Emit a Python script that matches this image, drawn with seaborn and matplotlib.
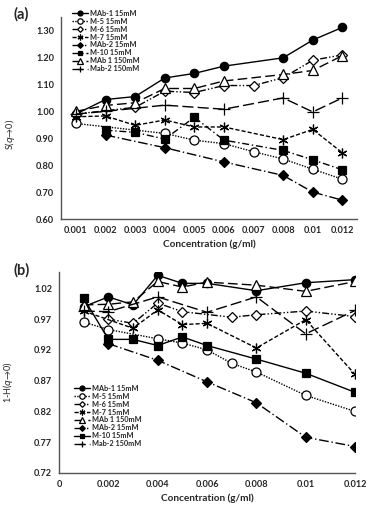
import numpy as np
import pandas as pd
import seaborn as sns
import matplotlib
matplotlib.use("Agg")
import matplotlib.pyplot as plt
from matplotlib.ticker import FixedLocator, FormatStrFormatter

sns.set_style("white")
plt.rcParams['font.family'] = ['Lato', 'DejaVu Sans']

nan = np.nan
# ---------------- Panel (a) data ----------------
conc_a_labels = ["0.001", "0.002", "0.003", "0.004", "0.005", "0.006", "0.007", "0.008", "0.01", "0.012"]
a_mab1_15 = [0.99, 1.044, 1.055, 1.124, 1.141, 1.168, nan, 1.199, 1.265, 1.312]
a_m5_15 = [0.955, nan, nan, 0.918, 0.893, 0.880, 0.850, 0.823, 0.785, 0.748]
a_m6_15 = [0.99, nan, 1.015, 1.075, 1.070, 1.096, 1.096, 1.125, 1.190, 1.210]
a_m7_15 = [0.98, 0.983, 0.948, 0.968, 0.942, 0.942, nan, 0.895, 0.933, 0.846]
a_mab2_15 = [nan, 0.912, nan, 0.865, nan, 0.812, nan, 0.762, 0.700, 0.670]
a_m10_15 = [nan, 0.930, 0.922, 0.897, 0.978, 0.893, nan, 0.855, 0.820, 0.783]
a_mab1_150 = [1.00, 1.022, 1.032, 1.085, 1.085, 1.113, nan, 1.137, 1.152, 1.207]
a_mab2_150 = [0.99, 1.00, nan, 1.023, nan, 1.008, nan, 1.050, 0.998, 1.050]

# ---------------- Panel (b) data ----------------
conc_b = [0.001, 0.002, 0.003, 0.004, 0.005, 0.006, 0.007, 0.008, 0.010, 0.012]
b_mab1_15 = [0.990, 1.006, 0.993, 1.041, 1.028, 1.028, nan, 1.016, 1.029, 1.034]
b_m5_15 = [0.965, 0.953, nan, 0.938, 0.931, 0.920, 0.898, 0.884, 0.846, 0.820]
b_m6_15 = [nan, 0.970, 0.963, 0.996, 0.982, nan, 0.973, 0.977, 0.983, 0.974]
b_m7_15 = [0.983, nan, 0.955, 0.985, 0.961, 0.963, nan, 0.923, 0.969, 0.880]
b_mab1_150 = [0.993, 0.994, 0.998, 1.031, 1.022, 1.030, nan, 1.025, 1.015, 1.031]
b_mab2_15 = [nan, 0.930, nan, 0.903, nan, 0.868, nan, 0.834, 0.778, 0.763]
b_m10_15 = [1.004, 0.937, 0.937, 0.927, 0.941, 0.927, nan, 0.905, 0.882, 0.851]
b_mab2_150 = [0.983, 0.982, nan, 1.006, nan, 0.981, nan, 1.006, 0.946, 0.984]

K = 'black'
styles = {
    "MAb-1 15mM": dict(marker='o', mfc=K, ls='-', ms=6),
    "M-5 15mM": dict(marker='o', mfc='white', ls=(0, (1, 1)), ms=6.5),
    "M-6 15mM": dict(marker='D', mfc='white', ls=(0, (5, 1.5, 1, 1.5, 1, 1.5)), ms=4.8),
    "M-7 15mM": dict(marker=(6, 2, 0), mfc=K, ls=(0, (3, 1.5)), ms=7),
    "MAb-2 15mM": dict(marker='D', mfc=K, ls=(0, (7, 2, 1, 2)), ms=4.8),
    "M-10 15mM": dict(marker='s', mfc=K, ls=(0, (5, 2, 1, 2)), ms=5.5),
    "MAb 1 150mM": dict(marker='^', mfc='white', ls=(0, (7, 3)), ms=6.5),
    "Mab-2 150mM": dict(marker='+', mfc=K, ls=(0, (8, 3)), ms=8),
}

fig = plt.figure(figsize=(3.82, 5.11), dpi=100)
ax_a = fig.add_axes([0.160, 0.5714, 0.775, 0.395])
ax_b = fig.add_axes([0.1545, 0.0744, 0.775, 0.394])


def draw(ax, xs, ys, name, override=None):
    st = dict(styles[name])
    if override:
        st.update(override)
    df = pd.DataFrame({"x": xs, "y": ys}).dropna()
    sns.lineplot(data=df, x="x", y="y", ax=ax, color=K, lw=1.0,
                 marker=st['marker'], markersize=st.get('ms', 5),
                 markerfacecolor=st['mfc'], markeredgecolor=K,
                 markeredgewidth=0.9, linestyle=st['ls'], label=name,
                 sort=False, estimator=None)

xa = list(range(len(conc_a_labels)))
series_a = [("MAb-1 15mM", a_mab1_15), ("M-5 15mM", a_m5_15), ("M-6 15mM", a_m6_15),
            ("M-7 15mM", a_m7_15), ("MAb-2 15mM", a_mab2_15), ("M-10 15mM", a_m10_15),
            ("MAb 1 150mM", a_mab1_150), ("Mab-2 150mM", a_mab2_150)]
for name, ys in series_a:
    draw(ax_a, xa, ys, name)

series_b = [("MAb-1 15mM", b_mab1_15), ("M-5 15mM", b_m5_15), ("M-6 15mM", b_m6_15),
            ("M-7 15mM", b_m7_15), ("MAb 1 150mM", b_mab1_150), ("MAb-2 15mM", b_mab2_15),
            ("M-10 15mM", b_m10_15), ("Mab-2 150mM", b_mab2_150)]
for name, ys in series_b:
    ov = {'ls': '-'} if name == "M-10 15mM" else None
    draw(ax_b, conc_b, ys, name, ov)

spine_c = '#555555'
for ax in (ax_a, ax_b):
    for s in ('top', 'right'):
        ax.spines[s].set_visible(False)
    for s in ('left', 'bottom'):
        ax.spines[s].set_color(spine_c)
        ax.spines[s].set_linewidth(1.0)
    ax.grid(False)
    ax.tick_params(axis='both', which='both', direction='out', color=spine_c,
                   length=3, width=0.8, pad=2)

# Panel (a) axes
ax_a.set_xlim(-0.5, len(conc_a_labels) - 0.5)
ax_a.set_ylim(0.60, 1.35)
ax_a.set_yticks(np.arange(0.60, 1.31, 0.10))
ax_a.yaxis.set_major_formatter(FormatStrFormatter('%.2f'))
ax_a.set_xticks(xa)
ax_a.set_xticklabels(conc_a_labels)
ax_a.xaxis.set_minor_locator(FixedLocator(np.arange(-0.5, len(conc_a_labels), 1.0)))
ax_a.tick_params(axis='x', which='major', length=0, pad=5)
ax_a.tick_params(axis='x', which='minor', length=3)
for lab in ax_a.get_xticklabels() + ax_a.get_yticklabels():
    lab.set_fontsize(6.6); lab.set_fontweight('bold')
ax_a.set_xlabel("Concentration (g/ml)", fontsize=7.2, fontweight='bold', labelpad=3)
ax_a.set_ylabel(r"S($q$→0)", fontsize=6.5, labelpad=2)
ax_a.yaxis.set_label_coords(-0.15, 0.42)

# Panel (b) axes
ax_b.set_xlim(0, 0.012)
ax_b.set_ylim(0.72, 1.047)
ax_b.set_yticks([0.72, 0.77, 0.82, 0.87, 0.92, 0.97, 1.02])
ax_b.yaxis.set_major_formatter(FormatStrFormatter('%.2f'))
ax_b.set_xticks([0, 0.002, 0.004, 0.006, 0.008, 0.010, 0.012])
ax_b.set_xticklabels(["0", "0.002", "0.004", "0.006", "0.008", "0.01", "0.012"])
for lab in ax_b.get_xticklabels() + ax_b.get_yticklabels():
    lab.set_fontsize(6.6); lab.set_fontweight('bold')
ax_b.set_xlabel("Concentration (g/ml)", fontsize=7.2, fontweight='bold', labelpad=3)
ax_b.set_ylabel(r"1-H($q$→0)", fontsize=6.5, labelpad=2)
ax_b.yaxis.set_label_coords(-0.15, 0.45)

leg_kw = dict(frameon=False, prop=dict(size=5.2, weight='bold'), handlelength=2.2,
              handletextpad=0.25, labelspacing=0.12, borderpad=0, borderaxespad=0,
              loc='upper left', markerscale=0.6)
ax_a.legend(bbox_to_anchor=(72 / 382, 1 - 10 / 511), bbox_transform=fig.transFigure, **leg_kw)
ax_b.legend(bbox_to_anchor=(74 / 382, 1 - 385 / 511), bbox_transform=fig.transFigure, **leg_kw)

fig.text(14 / 382, 1 - 14 / 511, "(a)", fontsize=10.5, fontweight='bold', va='center')
fig.text(14 / 382, 1 - 270 / 511, "(b)", fontsize=10.5, fontweight='bold', va='center')

fig.savefig("out.png", dpi=100)
